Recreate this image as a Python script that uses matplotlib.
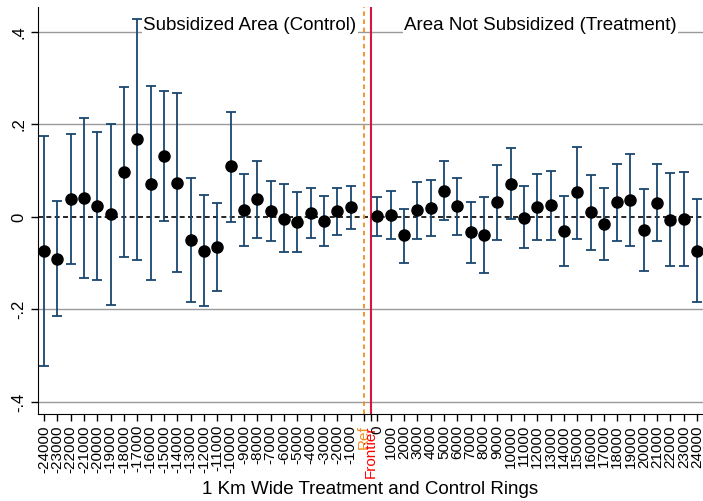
import matplotlib.pyplot as plt
import numpy as np

# ring distances (meters), control side then treatment side
control_rings = list(range(-24000, 0, 1000))
treatment_rings = list(range(0, 25000, 1000))

control_coef = [-0.073, -0.090, 0.039, 0.041, 0.023, 0.006, 0.097, 0.168, 0.072, 0.132,
                0.074, -0.050, -0.073, -0.066, 0.110, 0.015, 0.038, 0.012, -0.004, -0.011,
                0.009, -0.009, 0.012, 0.021]
control_hi = [0.174, 0.034, 0.180, 0.215, 0.184, 0.202, 0.281, 0.429, 0.283, 0.272,
              0.267, 0.084, 0.047, 0.031, 0.228, 0.093, 0.121, 0.078, 0.071, 0.054,
              0.062, 0.045, 0.062, 0.066]
control_lo = [-0.323, -0.214, -0.102, -0.133, -0.137, -0.190, -0.087, -0.092, -0.137, -0.008,
              -0.118, -0.184, -0.192, -0.161, -0.010, -0.062, -0.045, -0.052, -0.076, -0.076,
              -0.046, -0.063, -0.040, -0.025]

treatment_coef = [0.002, 0.004, -0.040, 0.014, 0.019, 0.057, 0.023, -0.033, -0.040, 0.032,
                  0.071, -0.002, 0.021, 0.025, -0.030, 0.053, 0.010, -0.016, 0.032, 0.037,
                  -0.029, 0.030, -0.007, -0.004, -0.073]
treatment_hi = [0.044, 0.056, 0.018, 0.076, 0.079, 0.120, 0.084, 0.032, 0.043, 0.113,
                0.149, 0.066, 0.092, 0.099, 0.046, 0.152, 0.091, 0.062, 0.115, 0.136,
                0.060, 0.115, 0.095, 0.097, 0.038]
treatment_lo = [-0.042, -0.048, -0.099, -0.048, -0.041, -0.006, -0.038, -0.099, -0.122, -0.049,
                -0.005, -0.068, -0.050, -0.050, -0.107, -0.047, -0.071, -0.094, -0.051, -0.063,
                -0.117, -0.053, -0.107, -0.105, -0.184]

ref_label = "Ref"
frontier_label = "Frontier"


def main():
    plt.rcParams['font.family'] = ['Liberation Sans', 'DejaVu Sans']

    fig = plt.figure(figsize=(7.03, 5.01), dpi=100)
    ax = fig.add_axes([38 / 703, 87 / 501, 665 / 703, 407 / 501])

    n_ctrl = len(control_rings)
    x_ctrl = np.arange(n_ctrl)
    ref_pos = n_ctrl
    frontier_pos = n_ctrl + 0.5
    x_treat = np.arange(len(treatment_rings)) + n_ctrl + 1

    x_all = np.concatenate([x_ctrl, x_treat])
    coef = np.array(control_coef + treatment_coef)
    hi = np.array(control_hi + treatment_hi)
    lo = np.array(control_lo + treatment_lo)

    # gridlines and zero line
    for yv in [-0.4, -0.2, 0.2, 0.4]:
        ax.axhline(yv, color='#9a9a9a', lw=1.0, zorder=0)
    ax.axhline(0, color='black', lw=1.2, ls=(0, (3, 2)), zorder=1)

    ax.axvline(ref_pos, color='#f28e1c', lw=1.3, ls=(0, (2.5, 2)), zorder=1)
    ax.axvline(frontier_pos, color='#d6163c', lw=1.5, zorder=1)

    ax.errorbar(x_all, coef, yerr=[coef - lo, hi - coef], fmt='none',
                ecolor='#1a476f', elinewidth=1.3, capsize=3.3, capthick=1.3, zorder=2)
    ax.plot(x_all, coef, 'o', color='black', ms=8, zorder=3)

    ax.set_xlim(-0.45, 49.44)
    ax.set_ylim(-0.426, 0.454)

    ticks = list(x_ctrl) + [ref_pos, frontier_pos] + list(x_treat)
    labels = [str(v) for v in control_rings] + [ref_label, frontier_label] + [str(v) for v in treatment_rings]
    ax.set_xticks(ticks)
    ax.set_xticklabels(labels, rotation=90, fontsize=11)
    tl = ax.get_xticklabels()
    tl[n_ctrl].set_color('#f28e1c')
    tl[n_ctrl + 1].set_color('red')

    ax.set_yticks([-0.4, -0.2, 0, 0.2, 0.4])
    ax.set_yticklabels(['-.4', '-.2', '0', '.2', '.4'], rotation=90, va='center', fontsize=12)
    ax.tick_params(axis='both', length=5, width=1, color='black')
    ax.tick_params(axis='x', pad=3)

    for s in ['top', 'right']:
        ax.spines[s].set_visible(False)

    box = dict(facecolor='white', edgecolor='none', pad=1.0)
    ax.text(15.45, 0.415, "Subsidized Area (Control)", ha='center', va='center',
            fontsize=13.5, bbox=box, zorder=4)
    ax.text(37.25, 0.415, "Area Not Subsidized (Treatment)", ha='center', va='center',
            fontsize=13.5, bbox=box, zorder=4)

    # x axis title placed in figure coordinates
    fig.text(370 / 703, 11 / 501, "1 Km Wide Treatment and Control Rings",
             ha='center', va='center', fontsize=13.5)

    fig.savefig('out.png', dpi=100)


if __name__ == "__main__":
    main()
